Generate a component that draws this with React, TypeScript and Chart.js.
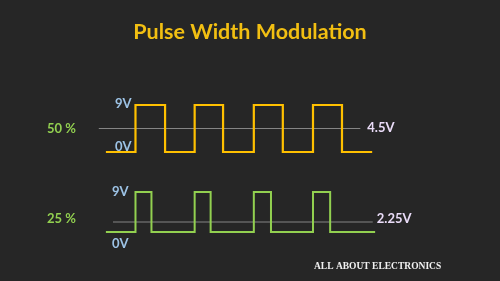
import React, { useEffect, useRef } from "react";
import { Chart, registerables } from "chart.js";

Chart.register(...registerables);

// ---- data (time in PWM periods, level in volts) ----
const titleText = "Pulse Width Modulation";
const footerText = "ALL ABOUT ELECTRONICS";

const pwm50Times = [0, 0.5, 1.0, 1.5, 1.98, 2.5, 2.99, 3.5, 3.99, 4.5];
const pwm50Levels = [0, 9, 0, 9, 0, 9, 0, 9, 0, 0];

const pwm25Times = [0, 0.5, 0.77, 1.5, 1.77, 2.5, 2.79, 3.5, 3.79, 4.55];
const pwm25Levels = [0, 9, 0, 9, 0, 9, 0, 9, 0, 0];

const avg50 = 4.5;
const avg25 = 2.25;
const avg50Span = [-0.12, 4.3];
const avg25Span = [0.12, 4.51];

const dutyLabels = ["50 %", "25 %"];
const levelLabels = ["9V", "0V"];
const avgLabels = ["4.5V", "2.25V"];

// ---- layout helpers (pixel geometry of the canvas) ----
const W = 500;
const H = 281;
const T0_PX = 105.9;
const PX_PER_T = 59.17;

function yRange(zeroPx: number, ninePx: number) {
  const pxPerV = (zeroPx - ninePx) / 9;
  return { min: (zeroPx - H) / pxPerV, max: zeroPx / pxPerV };
}

const YELLOW = "#ffc000";
const GREEN = "#92d050";
const BLUE = "#9dc3e6";
const LAVENDER = "#eadcf8";
const MID = "rgba(150,150,150,0.85)";
const FONT = "Lato, 'Open Sans', sans-serif";

const labelPlugin = {
  id: "pwmLabels",
  afterDraw(chart: any) {
    const { ctx, scales } = chart;
    const x = scales.x;
    const y50 = scales.y50;
    const y25 = scales.y25;
    ctx.save();
    // title
    ctx.font = `bold 21.5px ${FONT}`;
    ctx.fillStyle = "#f2bf12";
    ctx.textAlign = "center";
    ctx.textBaseline = "alphabetic";
    ctx.fillText(titleText, W / 2, 39);

    ctx.textBaseline = "middle";
    ctx.font = `bold 13px ${FONT}`;
    // duty labels
    ctx.fillStyle = GREEN;
    ctx.textAlign = "left";
    ctx.fillText(dutyLabels[0], 47, y50.getPixelForValue(avg50));
    ctx.fillText(dutyLabels[1], 47, y25.getPixelForValue(avg25) - 3);

    // level labels
    ctx.fillStyle = BLUE;
    ctx.textAlign = "right";
    const lx = x.getPixelForValue(pwm50Times[1]) - 4;
    ctx.fillText(levelLabels[0], lx, y50.getPixelForValue(9) - 1);
    ctx.fillText(levelLabels[1], lx, y50.getPixelForValue(0) - 5.5);
    const lx2 = x.getPixelForValue(pwm25Times[1]) - 7;
    ctx.fillText(levelLabels[0], lx2, y25.getPixelForValue(9));
    ctx.fillText(levelLabels[1], lx2, y25.getPixelForValue(0) + 12);

    // average labels
    ctx.fillStyle = LAVENDER;
    ctx.textAlign = "left";
    ctx.fillText(avgLabels[0], x.getPixelForValue(avg50Span[1]) + 7, y50.getPixelForValue(avg50) - 0.5);
    ctx.fillText(avgLabels[1], x.getPixelForValue(avg25Span[1]) + 4, y25.getPixelForValue(avg25) - 3);

    // footer
    ctx.font = `bold 9.5px 'Liberation Serif', 'DejaVu Serif', serif`;
    ctx.fillStyle = "#f2f2f2";
    ctx.textBaseline = "alphabetic";
    ctx.fillText(footerText, 314, 268.5);
    ctx.restore();
  },
};

export default function App() {
  const ref = useRef<HTMLCanvasElement | null>(null);

  useEffect(() => {
    if (!ref.current) return;
    const r50 = yRange(152, 105);
    const r25 = yRange(232, 192);
    const chart = new Chart(ref.current, {
      type: "line",
      data: {
        datasets: [
          {
            label: "50% duty",
            data: pwm50Times.map((t, i) => ({ x: t, y: pwm50Levels[i] })),
            stepped: "before",
            borderColor: YELLOW,
            borderWidth: 2.2,
            pointRadius: 0,
            yAxisID: "y50",
            order: 1,
          },
          {
            label: "50% average",
            data: avg50Span.map((t) => ({ x: t, y: avg50 })),
            borderColor: MID,
            borderWidth: 1,
            pointRadius: 0,
            yAxisID: "y50",
            order: 2,
          },
          {
            label: "25% duty",
            data: pwm25Times.map((t, i) => ({ x: t, y: pwm25Levels[i] })),
            stepped: "before",
            borderColor: GREEN,
            borderWidth: 2,
            pointRadius: 0,
            yAxisID: "y25",
            order: 1,
          },
          {
            label: "25% average",
            data: avg25Span.map((t) => ({ x: t, y: avg25 })),
            borderColor: MID,
            borderWidth: 1,
            pointRadius: 0,
            yAxisID: "y25",
            order: 2,
          },
        ] as any,
      },
      options: {
        responsive: false,
        animation: false,
        devicePixelRatio: 1,
        events: [],
        layout: { padding: 0 },
        scales: {
          x: {
            type: "linear",
            display: false,
            min: -T0_PX / PX_PER_T,
            max: (W - T0_PX) / PX_PER_T,
          },
          y50: { type: "linear", display: false, min: r50.min, max: r50.max },
          y25: { type: "linear", display: false, min: r25.min, max: r25.max },
        },
        plugins: {
          legend: { display: false },
          tooltip: { enabled: false },
          title: { display: false },
        },
      } as any,
      plugins: [labelPlugin],
    });
    return () => chart.destroy();
  }, []);

  return (
    <div
      style={{
        position: "fixed",
        left: 0,
        top: 0,
        width: W,
        height: H,
        background: "#262626",
      }}
    >
      <canvas ref={ref} width={W} height={H} style={{ display: "block" }} />
    </div>
  );
}
